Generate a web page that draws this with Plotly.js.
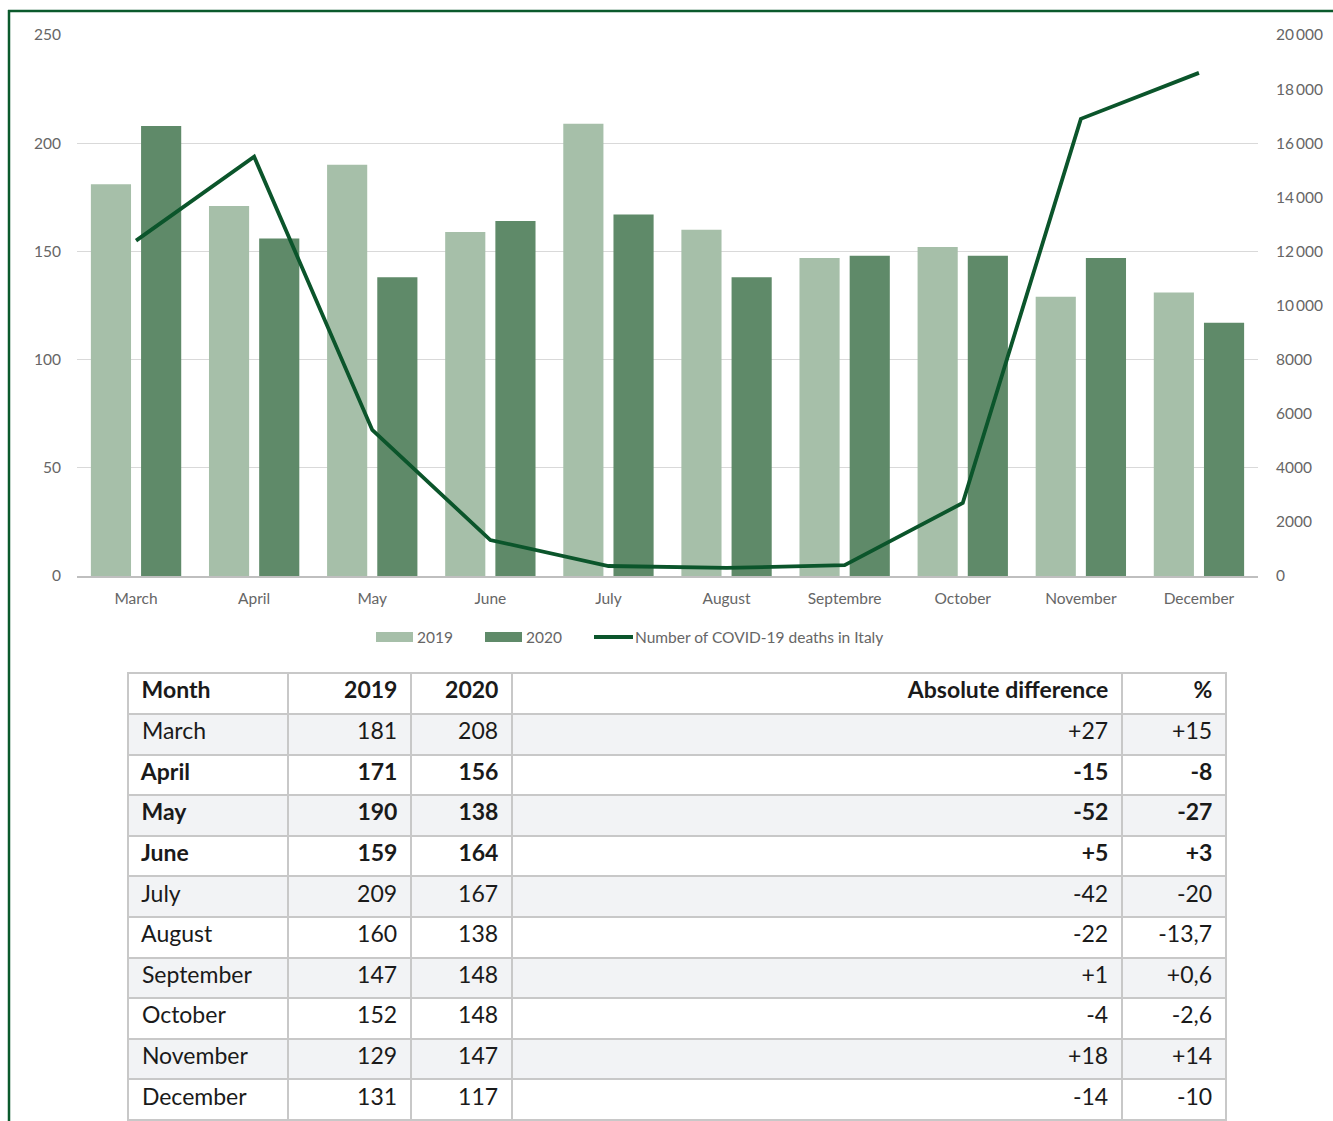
<!DOCTYPE html>
<html>
<head>
<meta charset="utf-8">
<script src="https://cdn.plot.ly/plotly-3.0.1.min.js"></script>
<style>
html,body{margin:0;padding:0;background:#fff;}
#chart{width:1333px;height:1121px;}
</style>
</head>
<body>
<div id="chart"></div>
<script>
// ---- data ----
var months = ['March','April','May','June','July','August','Septembre','October','November','December'];
var tableMonths = ['March','April','May','June','July','August','September','October','November','December'];
var deaths2019 = [181,171,190,159,209,160,147,152,129,131];
var deaths2020 = [208,156,138,164,167,138,148,148,147,117];
var covidDeaths = [12400,15500,5400,1330,370,300,400,2700,16900,18600];
var absDiff = ['+27','-15','-52','+5','-42','-22','+1','-4','+18','-14'];
var pctDiff = ['+15','-8','-27','+3','-20','-13,7','+0,6','-2,6','+14','-10'];
var boldRows = [false,true,true,true,false,false,false,false,false,false];
var leftTicks = [0,50,100,150,200,250];
var rightTickVals = [0,2000,4000,6000,8000,10000,12000,14000,16000,18000,20000];
var rightTickText = ['0','2000','4000','6000','8000','10\u2009000','12\u2009000','14\u2009000','16\u2009000','18\u2009000','20\u2009000'];
var headers = ['Month','2019','2020','Absolute difference','%'];

// ---- helpers ----
var W = 1333, H = 1121;
function px(x){ return x / W; }
function py(y){ return 1 - y / H; }
var NB = '\u00a0';
function L(s){ return NB + s; }
function R(s){ return s + NB; }

var c2019 = '#a6bfa9', c2020 = '#5f8a69', cLine = '#0b552b', cFrame = '#0b5a2c';
var gray = '#666666';
var font = 'Lato, "Open Sans", sans-serif';
var fs = 15.5;

var rowFill = tableMonths.map(function(_, i){ return i % 2 === 0 ? '#f2f3f5' : '#ffffff'; });
var rowWeight = boldRows.map(function(bd){ return bd ? 700 : 400; });

var traces = [
  {type:'bar', name:'2019', x:months, y:deaths2019, marker:{color:c2019}, showlegend:false, hoverinfo:'y'},
  {type:'bar', name:'2020', x:months, y:deaths2020, marker:{color:c2020}, showlegend:false, hoverinfo:'y'},
  {type:'scatter', mode:'lines', name:'Number of COVID-19 deaths in Italy', x:months, y:covidDeaths, yaxis:'y2',
   line:{color:cLine, width:3.8}, showlegend:false},
  {type:'table',
   domain:{x:[px(128), px(1226)], y:[0, py(673)]},
   columnwidth:[160,123,101,610,104],
   header:{
     values: headers.map(function(h, i){ return i === 0 ? L(h) : R(h); }),
     align:['left','right','right','right','right'],
     fill:{color:'#ffffff'},
     line:{color:'#c8c8c8', width:2},
     font:{family:font, size:23, color:'#1a1a1a', weight:700},
     height:41
   },
   cells:{
     values:[
       tableMonths.map(L),
       deaths2019.map(R),
       deaths2020.map(R),
       absDiff.map(R),
       pctDiff.map(R)
     ],
     align:['left','right','right','right','right'],
     fill:{color:[rowFill]},
     line:{color:'#c8c8c8', width:2},
     font:{family:font, size:23, color:'#1a1a1a', weight:[rowWeight]},
     height:40.6
   }
  }
];

var legY = 637;
var layout = {
  width:W, height:H,
  margin:{l:0,r:0,t:0,b:0},
  paper_bgcolor:'#ffffff', plot_bgcolor:'rgba(0,0,0,0)',
  font:{family:font, size:fs, color:gray},
  barmode:'group', bargap:0.15, bargroupgap:0.2,
  xaxis:{domain:[px(77), px(1258)], showline:true, linecolor:'#bfbfbf', linewidth:1.5,
         ticks:'', tickfont:{size:fs, color:gray}, ticklabelstandoff:8, fixedrange:true},
  yaxis:{domain:[py(576), py(35)], range:[0,250], tickvals:leftTicks, showgrid:true,
         gridcolor:'#d9d9d9', gridwidth:1, zeroline:false, showline:false, ticks:'',
         tickfont:{size:fs, color:gray}, ticklabelstandoff:15, fixedrange:true},
  yaxis2:{overlaying:'y', side:'right', range:[0,20000], tickvals:rightTickVals, ticktext:rightTickText,
          showgrid:false, zeroline:false, showline:false, ticks:'',
          tickfont:{size:fs, color:gray}, ticklabelstandoff:17, fixedrange:true},
  shapes:[
    {type:'line', xref:'paper', yref:'paper', x0:px(8), x1:1, y0:py(11), y1:py(11), line:{color:cFrame, width:2.5}},
    {type:'line', xref:'paper', yref:'paper', x0:px(9), x1:px(9), y0:py(10), y1:0, line:{color:cFrame, width:2.5}},
    {type:'rect', xref:'paper', yref:'paper', x0:px(376), x1:px(413), y0:py(642), y1:py(632), fillcolor:c2019, line:{width:0}},
    {type:'rect', xref:'paper', yref:'paper', x0:px(485), x1:px(522), y0:py(642), y1:py(632), fillcolor:c2020, line:{width:0}},
    {type:'line', xref:'paper', yref:'paper', x0:px(594), x1:px(633), y0:py(legY), y1:py(legY), line:{color:cLine, width:3.8}}
  ],
  annotations:[
    {xref:'paper', yref:'paper', x:px(415), y:py(legY), xanchor:'left', yanchor:'middle', text:'2019', showarrow:false, font:{size:fs, color:gray}},
    {xref:'paper', yref:'paper', x:px(524), y:py(legY), xanchor:'left', yanchor:'middle', text:'2020', showarrow:false, font:{size:fs, color:gray}},
    {xref:'paper', yref:'paper', x:px(633), y:py(legY), xanchor:'left', yanchor:'middle', text:'Number of COVID-19 deaths in Italy', showarrow:false, font:{size:fs, color:gray}}
  ]
};

Plotly.newPlot('chart', traces, layout, {displayModeBar:false, staticPlot:true});
</script>
</body>
</html>
